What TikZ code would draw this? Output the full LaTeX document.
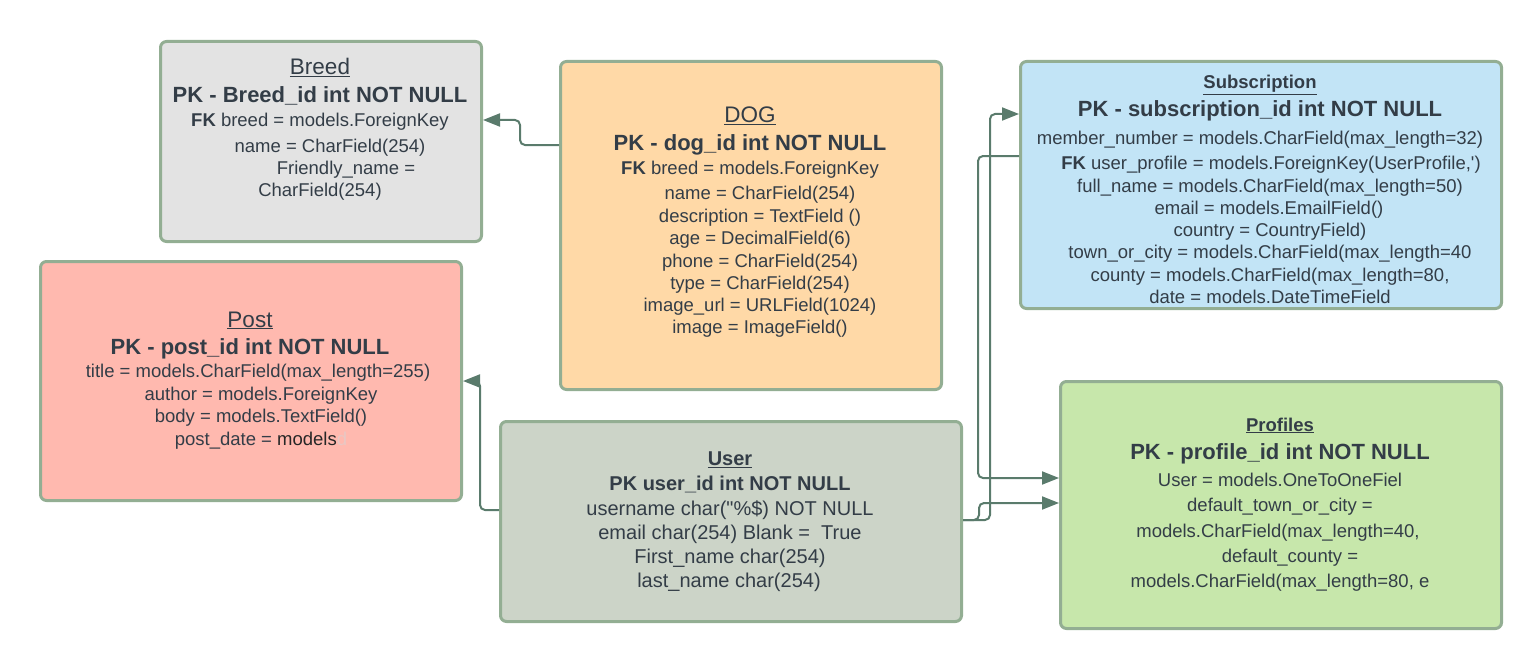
\documentclass[tikz,border=0pt]{standalone}
\usepackage{fontspec}
\setmainfont{Liberation Sans}[Ligatures=TeXOff]
\usetikzlibrary{arrows.meta}
\definecolor{txt}{HTML}{333D47}
\definecolor{bord}{HTML}{93AE93}
\definecolor{conncol}{HTML}{5A7B6C}
\definecolor{cbreed}{HTML}{E3E3E3}
\definecolor{cdog}{HTML}{FFD9A7}
\definecolor{csub}{HTML}{C2E4F6}
\definecolor{cpost}{HTML}{FFB9AF}
\definecolor{cuser}{HTML}{CCD4C8}
\definecolor{cprof}{HTML}{C7E7AB}
\definecolor{faint}{HTML}{E8C8C4}
\tikzset{
  entity/.style={draw=bord, line width=3bp, rounded corners=6bp, anchor=north west, inner sep=0pt},
  ln/.style={text=txt, inner sep=0pt, yshift=-2.5bp, font=\fontsize{18.5bp}{22bp}\selectfont, text height=14bp, text depth=4bp},
  lnu/.style={ln, font=\fontsize{20bp}{24bp}\selectfont, text height=15bp, text depth=4bp},
  pk/.style={ln, font=\fontsize{22bp}{26bp}\selectfont\bfseries, text height=16bp, text depth=4bp},
  pku/.style={ln, font=\fontsize{20bp}{24bp}\selectfont\bfseries, text height=15bp, text depth=4bp},
  ttl/.style={ln, font=\fontsize{22.5bp}{26bp}\selectfont, text height=16bp, text depth=5bp},
  ttlb/.style={ln, font=\fontsize{18.5bp}{22bp}\selectfont\bfseries, text height=14bp, text depth=5bp},
  ttlu/.style={ln, font=\fontsize{20bp}{24bp}\selectfont\bfseries, text height=15bp, text depth=5bp},
  conn/.style={draw=conncol, line width=2bp, rounded corners=5bp, -{Triangle[length=17bp,width=13bp]}}
}
\begin{document}
\begin{tikzpicture}[x=1bp, y=-1bp]
\useasboundingbox (0,0) rectangle (1540,668);
% entity boxes
\node[entity, fill=cbreed, minimum width=321bp, minimum height=200bp] (breed) at (159,40) {};
\node[entity, fill=cdog, minimum width=381bp, minimum height=328bp] (dog) at (559,60) {};
\node[entity, fill=csub, minimum width=481bp, minimum height=247bp] (sub) at (1019,60) {};
\node[entity, fill=cpost, minimum width=421bp, minimum height=239bp] (post) at (39,260) {};
\node[entity, fill=cuser, minimum width=461bp, minimum height=200bp] (user) at (499,420) {};
\node[entity, fill=cprof, minimum width=441bp, minimum height=247bp] (prof) at (1059,380) {};

% Breed
\node[ttl] (b1) at (320,67) {\underline{Breed}};
\node[pk] (b2) at (320,94) {PK - Breed\_id int NOT NULL};
\node[ln] (b3) at (320,119) {\textbf{FK} breed = models.ForeignKey};
\node[ln] (b4) at (330,145) {name = CharField(254)};
\node[ln] (b5) at (346,167) {Friendly\_name =};
\node[ln] (b6) at (320,189) {CharField(254)};

% DOG
\node[ttl] (d1) at (750,115) {\underline{DOG}};
\node[pk] (d2) at (750,142) {PK - dog\_id int NOT NULL};
\node[ln] (d3) at (750,167) {\textbf{FK} breed = models.ForeignKey};
\node[ln] (d4) at (760,192) {name = CharField(254)};
\node[ln] (d5) at (760,215) {description = TextField ()};
\node[ln] (d6) at (760,237) {age = DecimalField(6)};
\node[ln] (d7) at (760,260) {phone = CharField(254)};
\node[ln] (d8) at (760,282) {type = CharField(254)};
\node[ln] (d9) at (760,304) {image\_url = URLField(1024)};
\node[ln] (d10) at (760,326) {image = ImageField()};

% Subscription
\node[ttlb] (s1) at (1260,82) {\underline{Subscription}};
\node[pk] (s2) at (1260,108) {PK - subscription\_id int NOT NULL};
\node[ln] (s3) at (1260,137) {member\_number = models.CharField(max\_length=32)};
\node[ln] (s4) at (1271,162) {\textbf{FK} user\_profile = models.ForeignKey(UserProfile,')};
\node[ln] (s5) at (1270,185) {full\_name = models.CharField(max\_length=50)};
\node[ln] (s6) at (1269,207) {email = models.EmailField()};
\node[ln] (s7) at (1270,229) {country = CountryField)};
\node[ln] (s8) at (1270,251) {town\_or\_city = models.CharField(max\_length=40};
\node[ln] (s9) at (1270,274) {county = models.CharField(max\_length=80,};
\node[ln] (s10) at (1270,296) {date = models.DateTimeField};

% Post
\node[ttl] (p1) at (250,319) {\underline{Post}};
\node[pk] (p2) at (250,346) {PK - post\_id int NOT NULL};
\node[ln] (p3) at (258,370) {title = models.CharField(max\_length=255)};
\node[ln] (p4) at (261,393) {author = models.ForeignKey};
\node[ln] (p5) at (261,415) {body = models.TextField()};
\node[ln] (p6) at (261,438) {post\_date = {\color{black!85}models}{\color{faint}d}};

% User
\node[ttlu] (u1) at (730,458) {\underline{User}};
\node[pku] (u2) at (730,482) {PK user\_id int NOT NULL};
\node[lnu] (u3) at (730,507) {username char("\%\$) NOT NULL};
\node[lnu] (u4) at (730,531) {email char(254) Blank =\ \ True};
\node[lnu] (u5) at (730,555) {First\_name char(254)};
\node[lnu] (u6) at (729,579) {last\_name char(254)};

% Profiles
\node[ttlb] (r1) at (1280,424) {\underline{Profiles}};
\node[pk] (r2) at (1280,451) {PK - profile\_id int NOT NULL};
\node[ln] (r3) at (1280,479) {User = models.OneToOneFiel};
\node[ln] (r4) at (1280,504) {default\_town\_or\_city =};
\node[ln] (r5) at (1278,530) {models.CharField(max\_length=40,};
\node[ln] (r6) at (1290,555) {default\_county =};
\node[ln] (r7) at (1280,580) {models.CharField(max\_length=80, e};

% connectors
\draw[conn] (dog.west |- 0,145) -- (520,145) -- (520,120) -- (breed.east |- 0,120);
\draw[conn] (user.west |- 0,510) -- (480,510) -- (480,381) -- (post.east |- 0,381);
\draw[conn] (sub.west |- 0,156) -- (978,156) -- (978,478) -- (prof.west |- 0,478);
\draw[conn] (user.east |- 0,520) -- (990,520) -- (990,114) -- (sub.west |- 0,114);
\draw[conn] (user.east |- 0,520) -- (979,520) -- (979,503) -- (prof.west |- 0,503);
\end{tikzpicture}
\end{document}
